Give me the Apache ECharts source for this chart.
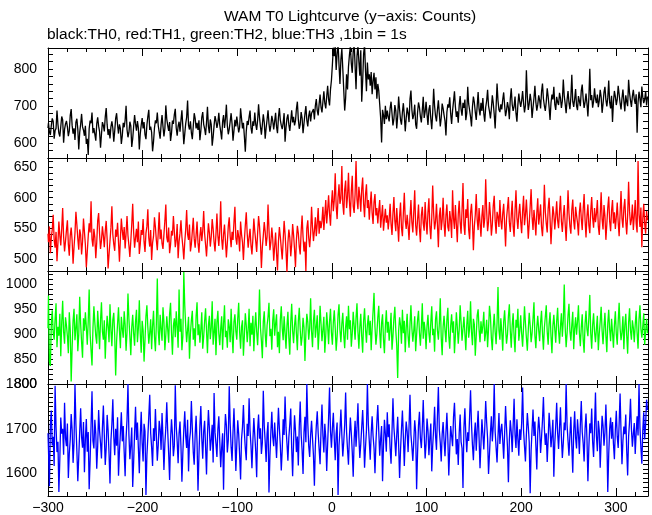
<!DOCTYPE html>
<html>
<head>
<meta charset="utf-8">
<script src="https://cdn.jsdelivr.net/npm/echarts@6/dist/echarts.min.js"></script>
<style>html,body{margin:0;padding:0;background:#fff;}#c{width:652px;height:515px;}</style>
</head>
<body>
<div id="c"></div>
<script>
const titleText = 'WAM T0 Lightcurve (y\u2212axis: Counts)';
const subText = 'black:TH0, red:TH1, green:TH2, blue:TH3 ,1bin = 1s';
const startTime = -300;   // first 1 s bin
const endTime = 334;
const xTickLabels = [-300, -200, -100, 0, 100, 200, 300];

const th0 = [
641,655,630,622,648,667,659,612,634,640,688,651,627,618,645,672,663,601,637,652,
660,644,619,633,675,692,648,626,640,609,657,666,638,583,629,651,679,644,635,620,
647,598,612,568,639,661,654,683,627,641,636,607,652,670,646,631,588,624,657,648,
632,671,695,650,622,638,613,644,659,641,604,633,667,681,649,626,651,639,598,620,
655,643,662,701,637,616,629,658,647,590,612,645,676,652,634,660,641,583,626,649,
668,640,657,623,611,649,672,690,636,645,629,578,604,641,662,654,683,647,630,612,
650,676,645,618,639,702,665,648,633,657,606,627,661,652,677,693,641,620,646,658,
631,662,689,644,597,625,653,670,715,648,637,659,628,611,646,681,667,640,655,636,
662,608,633,670,684,651,639,622,656,698,645,627,664,650,593,617,648,673,660,641,
655,682,649,631,610,658,676,641,666,704,647,624,638,659,681,652,607,634,663,645,
672,650,629,643,694,667,640,655,618,577,632,660,649,671,688,642,626,659,647,683,
651,636,662,705,669,644,623,650,678,657,612,641,664,689,653,631,648,674,660,637,
659,682,644,627,670,695,662,648,638,655,681,604,642,667,678,650,633,661,689,656,
671,648,660,693,712,665,639,651,684,668,627,653,679,700,662,645,674,688,659,681,
676,692,664,701,719,688,675,706,731,697,683,712,740,708,694,726,755,718,702,745,
770,812,858,835,866,798,842,870,812,760,826,855,801,744,688,722,786,745,806,838,
862,815,790,848,872,808,746,835,866,820,782,851,712,768,842,865,795,740,818,772,
786,755,792,732,768,790,745,778,720,760,742,705,668,602,690,676,652,701,665,688,
671,659,694,712,680,648,665,703,688,640,672,726,691,663,650,684,708,675,632,668,
696,681,657,719,742,690,665,677,704,651,639,683,710,697,672,656,689,725,668,685,
712,678,649,691,703,666,638,682,747,700,673,659,690,716,681,645,668,707,694,676,
660,621,684,705,696,724,679,652,688,713,740,698,671,686,655,702,727,691,674,709,
695,718,662,681,752,706,689,671,645,698,726,710,684,663,700,738,692,675,709,687,
722,680,658,697,714,744,701,686,667,693,729,708,678,640,699,761,715,690,684,705,
691,718,737,702,673,688,711,696,665,720,748,705,687,699,726,681,658,703,734,712,
698,715,741,709,683,702,797,725,690,707,733,714,668,696,722,755,711,688,704,729,
716,694,739,761,720,701,687,712,748,726,697,663,709,731,718,752,705,690,725,711,
703,736,722,695,714,772,728,706,681,717,741,709,692,724,785,712,698,719,746,701,
689,727,714,700,742,758,719,695,711,734,707,672,723,801,716,730,696,713,748,720,
708,731,697,715,744,725,682,706,738,752,717,699,723,769,710,694,728,657,712,741,
726,703,718,755,732,709,691,721,745,714,686,729,712,700,771,736,715,698,727,744,
719,706,732,628,711,739,720,697,753,724,708,718,741,702,726
];

const th1 = [
541,527,553,509,535,548,572,531,518,544,496,526,561,538,522,549,583,536,512,529,
547,563,524,505,538,551,530,492,519,542,577,556,533,515,548,539,507,528,566,544,
523,486,511,537,558,543,594,532,520,549,535,501,527,562,575,541,516,530,553,538,
519,545,562,532,484,507,529,551,586,540,524,513,548,536,559,527,495,533,566,546,
531,552,517,541,570,538,522,503,529,556,590,543,518,535,549,527,561,508,524,547,
539,565,528,511,542,553,581,534,520,547,498,526,537,568,552,530,514,543,576,532,
548,525,516,540,562,589,535,527,551,509,523,546,538,570,544,519,531,557,501,528,
542,563,536,520,499,527,548,580,540,531,556,512,524,545,567,533,518,539,561,526,
510,537,552,529,546,578,541,523,504,531,558,543,520,536,565,549,527,512,541,574,
538,521,546,594,533,515,540,556,529,502,526,553,568,537,519,544,531,560,585,534,
523,547,536,512,561,540,527,498,530,555,576,541,518,535,549,522,507,533,566,545,
529,511,542,570,553,527,485,519,538,560,544,521,536,589,548,514,527,551,532,497,
520,543,509,481,528,552,536,517,499,530,562,541,513,478,526,548,535,504,523,557,
539,516,486,531,554,542,520,507,545,571,536,512,528,480,550,563,534,519,541,585,
552,529,546,568,537,558,583,541,562,550,
562,585,547,571,596,558,580,604,573,554,590,612,578,596,640,586,565,601,622,590,
599,652,590,572,613,628,583,602,641,594,569,611,636,586,575,606,660,597,581,618,
602,577,614,633,590,568,605,622,583,596,564,589,610,575,557,593,606,571,583,558,
579,596,551,570,588,546,565,582,559,571,
548,566,590,557,539,574,601,562,545,583,556,528,569,592,551,537,575,608,563,549,
572,554,531,568,596,560,543,577,612,555,538,564,589,550,527,571,585,558,546,593,
561,540,576,599,553,532,567,620,574,548,561,590,556,519,570,584,547,563,600,558,
536,571,589,552,545,578,563,534,612,566,549,588,557,527,573,595,560,541,579,624,
556,539,581,567,598,548,532,575,590,561,514,553,572,606,564,547,583,559,536,570,
588,551,566,630,579,545,560,593,571,538,556,587,603,562,541,577,569,552,596,563,
548,574,590,557,520,566,583,601,560,544,571,595,553,536,579,612,567,549,574,590,
561,542,578,603,555,572,597,566,533,558,586,614,569,547,580,562,538,575,599,556,
571,589,552,537,568,621,577,558,543,582,600,566,524,557,586,573,548,569,594,563,
550,578,603,561,544,570,588,556,529,567,612,575,553,541,580,597,562,548,585,571,
559,538,576,592,566,547,581,606,563,535,570,589,555,542,578,601,567,551,583,560,
574,596,553,539,572,609,565,548,588,570,531,557,584,602,561,545,579,596,558,576,
549,568,592,560,537,574,611,566,551,583,598,562,540,571,626,578,555,564,589,547,
570,596,558,543,660,572,552,584,519,566,590,557,541,578,563
];

const th2 = [
912,978,845,836,921,948,903,889,930,962,874,915,897,941,856,923,967,905,881,934,
918,896,862,944,909,805,873,927,951,888,913,940,866,899,975,921,884,853,932,907,
944,915,879,926,990,901,868,837,912,956,923,896,881,947,913,870,928,964,905,889,
928,851,902,937,915,884,960,908,876,929,943,898,817,886,921,954,907,872,935,911,
893,946,919,867,905,982,931,896,858,914,939,902,877,926,949,884,912,968,901,863,
927,908,845,889,936,958,914,881,903,930,870,916,947,895,866,921,1012,906,878,939,
911,887,954,925,868,899,936,910,883,941,963,902,859,917,932,894,946,915,873,990,
905,931,868,896,1025,958,917,884,909,935,851,902,928,947,889,912,876,936,964,898,
920,883,909,944,871,895,926,952,907,862,918,937,890,913,966,879,904,931,858,924,
947,901,878,912,936,869,921,958,894,907,873,930,916,884,951,899,862,925,940,906,
889,932,963,904,871,915,928,857,897,942,918,884,909,951,876,923,899,937,866,912,
944,905,878,921,990,913,887,852,925,946,901,874,918,935,963,896,911,869,928,950,
897,921,940,874,905,862,929,956,912,888,936,903,871,917,945,893,859,924,961,907,
882,918,939,901,868,926,953,910,877,895,933,914,846,902,941,925,889,912,972,906,
874,927,949,893,915,938,869,904,957,921,886,910,935,863,898,944,917,880,926,951,
903,879,924,948,912,867,895,939,960,908,884,921,943,899,872,915,936,889,957,910,
928,875,902,945,917,889,933,962,906,871,914,941,895,863,927,952,910,883,919,938,
898,927,868,912,946,983,915,879,901,934,957,905,872,923,940,889,862,917,948,903,
925,887,911,943,869,896,932,955,908,878,812,906,934,918,881,949,902,927,864,913,
941,896,873,920,958,912,885,907,936,866,899,929,947,903,877,914,962,891,925,908,
870,917,939,902,883,924,956,898,911,865,930,946,907,889,921,972,894,858,915,937,
908,884,929,953,896,871,917,940,903,926,862,899,944,915,881,909,958,924,887,911,
935,902,868,919,947,893,912,966,905,878,931,920,857,896,938,950,909,884,926,901,
917,945,886,903,929,874,911,957,936,892,868,914,941,905,880,923,995,908,889,932,
904,867,925,948,912,881,899,936,960,907,873,918,942,895,864,929,913,951,887,906,
938,901,875,914,956,922,893,867,909,943,918,884,902,931,964,897,872,915,937,908,
886,924,947,902,869,913,935,958,905,879,921,944,896,862,917,939,910,883,926,953,
907,881,916,942,895,928,1000,913,874,902,938,961,906,887,919,945,870,911,934,899,
925,958,903,876,914,940,889,863,921,947,910,896,933,979,902,871,918,942,905,884,
912,937,868,901,926,955,907,880,915,943,897,864,922,949,909,886,931,904,873,918,
946,901,879,925,963,912,888,904,936,870,917,941,898,861,923,952,907,889,928,913,
884,919,947,902,871,930,958,911,893,916,942,879,905,931,902
];

const th3 = [
1690,1655,1572,1708,1741,1663,1682,1617,1796,1704,1648,1671,1559,1633,1725,1689,1700,1642,1758,1679,
1661,1712,1590,1645,1676,1733,1698,1624,1669,1800,1710,1652,1583,1637,1694,1746,1681,1658,1715,1603,
1677,1722,1649,1693,1565,1630,1708,1784,1673,1656,1720,1689,1611,1661,1742,1695,1668,1634,1703,1752,
1686,1619,1658,1731,1697,1645,1578,1674,1710,1766,1683,1641,1700,1662,1726,1595,1650,1691,1737,1672,
1706,1648,1594,1679,1721,1800,1687,1632,1664,1703,1570,1626,1692,1749,1675,1714,1657,1601,1684,1738,
1668,1627,1711,1695,1552,1640,1682,1728,1776,1690,1659,1617,1701,1673,1744,1686,1629,1664,1718,1699,
1653,1735,1680,1608,1667,1702,1759,1694,1645,1586,1676,1721,1688,1639,1663,1797,1705,1671,1623,1690,
1716,1661,1582,1647,1698,1739,1684,1657,1720,1605,1673,1693,1762,1701,1648,1620,1687,1729,1669,1562,
1640,1706,1751,1679,1633,1694,1718,1660,1598,1685,1742,1703,1651,1676,1709,1625,1780,1692,1666,1637,
1699,1728,1672,1614,1658,1690,1564,1681,1733,1708,1647,1675,1795,1712,1659,1628,1693,1746,1683,1606,
1665,1719,1688,1641,1587,1677,1704,1753,1692,1656,1630,1711,1684,1768,1696,1662,1612,1674,1724,1686,
1650,1592,1697,1732,1678,1701,1644,1669,1785,1707,1671,1626,1689,1715,1558,1640,1693,1738,1682,1661,
1714,1676,1635,1690,1747,1700,1663,1607,1654,1721,1686,1772,1702,1668,1629,1681,1710,1745,1657,1594,
1671,1730,1696,1648,1683,1618,1705,1761,1687,1653,1599,1692,1727,1670,1800,1713,1662,1637,1686,1718,
1679,1641,1573,1664,1706,1739,1690,1655,1621,1698,1754,1684,1647,1711,1680,1606,1667,1724,1792,1695,
1658,1701,1736,1678,1630,1689,1714,1552,1662,1697,1743,1686,1638,1671,1709,1781,1693,1654,1620,1683,
1725,1690,1648,1593,1676,1718,1660,1702,1757,1681,1635,1666,1704,1742,1688,1613,1659,1697,1800,1710,
1672,1631,1690,1728,1684,1657,1601,1669,1715,1753,1695,1640,1678,1706,1583,1663,1720,1688,1649,1737,
1681,1710,1656,1622,1694,1768,1703,1674,1639,1686,1727,1665,1590,1652,1699,1741,1683,1617,1677,1716,
1694,1648,1705,1776,1687,1660,1628,1672,1719,1693,1565,1645,1708,1738,1679,1657,1701,1764,1690,1634,
1667,1723,1696,1641,1680,1712,1605,1662,1700,1749,1685,1653,1729,1793,1698,1669,1627,1688,1715,1674,
1639,1692,1736,1678,1596,1655,1706,1684,1661,1726,1758,1701,1643,1677,1619,1690,1732,1671,1657,1568,
1703,1746,1686,1648,1692,1673,1727,1786,1710,1664,1630,1685,1714,1651,1699,1740,1680,1612,1667,1721,
1689,1654,1700,1762,1715,1679,1599,1643,1691,1728,1672,1706,1800,1694,1658,1625,1683,1735,1666,1697,
1711,1674,1633,1690,1751,1702,1660,1581,1676,1719,1693,1648,1707,1767,1686,1657,1721,1678,1640,1699,
1675,1713,1792,1696,1661,1627,1688,1735,1705,1670,1556,1652,1698,1743,1684,1716,1663,1609,1690,1727,
1697,1646,1681,1719,1771,1700,1664,1690,1626,1677,1736,1703,1659,1685,1720,1593,1668,1706,1758,1692,
1655,1701,1748,1682,1635,1669,1714,1697,1800,1708,1673,1640,1686,1727,1661,1602,1695,1739,1680,1656,
1721,1689,1644,1709,1762,1693,1668,1627,1700,1734,1679,1583,1658,1712,1690,1745,1671,1637,1704,1781,
1684,1650,1718,1696,1613,1675,1729,1707,1662,1691,1754,1686,1559,1643,1700,1725,1678,1715,1666,1632,
1698,1740,1683,1657,1711,1779,1694,1621,1673,1705,1688,1732,1651,1596,1682,1716,1767,1699,1660,1689,
1713,1644,1691,1728,1685,1800,1703,1658,1622,1696,1737,1676,1710,1765,1742
];

// y-axis ranges and labelled tick values per panel
const yMins = [560, 480, 800, 1550];
const yMaxs = [857, 665, 1027, 1800];
const yTickSteps = [20, 10, 10, 10];
const yLabelSteps = [100, 50, 50, 100];
const colors = ['#000000', '#ff0000', '#00ff00', '#0000ff'];
const seriesValues = [th0, th1, th2, th3];
const names = ['TH0', 'TH1', 'TH2', 'TH3'];

const panelTops = [48, 158, 271, 384];
const panelHeights = [110, 113, 113, 112];
const gridLeft = 48, gridRight = 4;
const FONT = '"Liberation Sans", Arial, Helvetica, sans-serif';

const grids = [], xAxes = [], yAxes = [], series = [];
const lineCol = '#000';
for (let i = 0; i < 4; i++) {
  grids.push({left: gridLeft, right: gridRight, top: panelTops[i], height: panelHeights[i], containLabel: false});
  const xBase = {
    type: 'value', gridIndex: i, min: startTime, max: endTime, interval: 100,
    axisLine: {show: true, onZero: false, lineStyle: {color: lineCol, width: 1}},
    axisTick: {show: true, inside: true, length: 8, lineStyle: {color: lineCol, width: 1}},
    minorTick: {show: true, splitNumber: 5, length: 4, lineStyle: {color: lineCol, width: 1}},
    splitLine: {show: false}
  };
  xAxes.push(Object.assign({}, xBase, {
    position: 'bottom',
    axisLabel: {
      show: i === 3, margin: 5, color: '#000', fontSize: 14, fontFamily: FONT,
      formatter: v => (xTickLabels.indexOf(v) >= 0 ? String(v).replace('-', '\u2212') : '')
    }
  }));
  xAxes.push(Object.assign({}, xBase, {position: 'top', axisLabel: {show: false}}));
  const yBase = {
    type: 'value', gridIndex: i, min: yMins[i], max: yMaxs[i], interval: yTickSteps[i],
    axisLine: {show: true, onZero: false, lineStyle: {color: lineCol, width: 1}},
    axisTick: {show: true, inside: true, length: 5, lineStyle: {color: lineCol, width: 1}},
    splitLine: {show: false}
  };
  const ls = yLabelSteps[i];
  yAxes.push(Object.assign({}, yBase, {
    position: 'left',
    axisLabel: {
      show: true, margin: 11, color: '#000', fontSize: 14, fontFamily: FONT,
      formatter: v => (Math.abs(v % ls) < 1e-6 ? String(v) : '')
    }
  }));
  yAxes.push(Object.assign({}, yBase, {position: 'right', axisLabel: {show: false}}));
  series.push({
    name: names[i], type: 'line', xAxisIndex: 2 * i, yAxisIndex: 2 * i,
    data: seriesValues[i].map((v, k) => [startTime + k, v]),
    step: 'middle', showSymbol: false, symbol: 'none', clip: true,
    lineStyle: {color: colors[i], width: 1.3}, itemStyle: {color: colors[i]},
    animation: false, silent: true
  });
}

const chart = echarts.init(document.getElementById('c'), null, {renderer: 'canvas'});
chart.setOption({
  backgroundColor: '#ffffff',
  animation: false,
  title: [
    {text: titleText, left: 224, top: 9, padding: 0, textStyle: {fontSize: 15.5, fontWeight: 'normal', color: '#000', fontFamily: FONT}},
    {text: subText, left: 47, top: 27, padding: 0, textStyle: {fontSize: 15.5, fontWeight: 'normal', color: '#000', fontFamily: FONT}}
  ],
  grid: grids, xAxis: xAxes, yAxis: yAxes, series: series
});
</script>
</body>
</html>
